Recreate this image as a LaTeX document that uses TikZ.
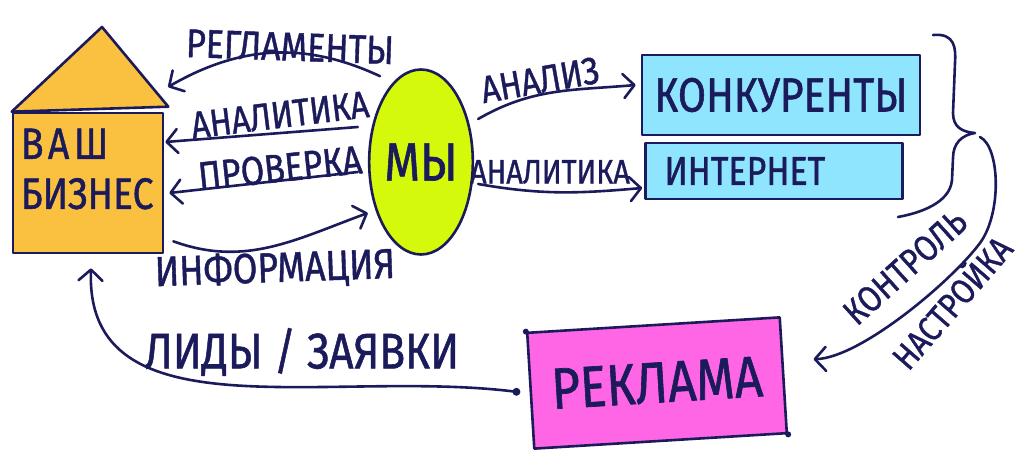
\documentclass[tikz,border=0pt]{standalone}
\usepackage{graphicx}
\usepackage{fontspec}
\setmainfont{Fira Sans}[FakeBold=1.2]
\usetikzlibrary{shapes.geometric,arrows.meta,calc}
\definecolor{ink}{HTML}{1B1B5C}
\definecolor{housefill}{HTML}{FAC040}
\definecolor{myfill}{HTML}{D5F90A}
\definecolor{netblue}{HTML}{8EE5FD}
\definecolor{adpink}{HTML}{FF66E6}
\newcommand{\hand}[1]{\scalebox{0.85}[1]{#1}}

\begin{document}
\begin{tikzpicture}[x=1pt,y=1pt,
    inkline/.style={draw=ink,line width=2.6pt,line join=round,line cap=round},
    arr/.style={inkline,-{Straight Barb[length=11pt,width=24pt,round]}},
    txt/.style={text=ink,inner sep=0pt,font=\fontsize{#1}{#1}\selectfont}]
    \useasboundingbox (0,0) rectangle (1024,463);

    % house
    \node[inkline,fill=housefill,minimum width=150pt,minimum height=140pt] (biz) at (88,280) {};
    \coordinate (roof) at (102,436);
    \filldraw[inkline,fill=housefill] (biz.north west) -- (roof) -- ($(biz.north east)+(4,5)$) -- cycle;
    \node[txt=44,align=left,anchor=west] (bizname) at ($(biz.west)+(9,14)$) {\hand{\addfontfeature{LetterSpace=12}ВАШ}\\[6pt]\hand{БИЗНЕС}};

    % us and the boxes
    \node[ellipse,inkline,fill=myfill,minimum width=95pt,minimum height=185pt,txt=54] (my) at (421,301) {\hand{МЫ}};
    \node[inkline,fill=netblue,minimum width=278pt,minimum height=80pt,txt=48] (konk) at (781,368) {\hand{КОНКУРЕНТЫ}};
    \node[inkline,fill=netblue,minimum width=257pt,minimum height=56pt,txt=40,text width=219pt,align=left] (inet) at (774,292) {\hand{ИНТЕРНЕТ}};
    \node[inkline,fill=adpink,minimum width=253pt,minimum height=116pt,rotate=3.5,txt=58] (rekl) at (657,80) {\hand{РЕКЛАМА}};
    \fill[ink] (rekl.north west) circle (3) (rekl.south east) circle (3);

    % brace
    \coordinate (brTip) at (975,330);
    \draw[inkline] (933,428) .. controls (955,430) and (956,415) .. (955,400) -- (953,350)
        .. controls (953,336) and (962,331) .. (brTip)
        .. controls (962,328) and (953,320) .. (953,305) -- (952,283)
        .. controls (950,260) and (920,250) .. (898,246);

    % arrows between house and us
    \coordinate (rgEnd) at (168,376);
    \draw[arr] ($(my.north)+(-41,-8)$) to[out=155,in=30] (rgEnd);
    \node[txt=40,rotate=-2] (rgl) at (290,416) {\hand{РЕГЛАМЕНТЫ}};

    \draw[arr] ($(my.west)+(-10,35)$) -- ($(biz.east)+(1,41)$);
    \node[txt=38,rotate=7] (anl) at (280,348) {\hand{АНАЛИТИКА}};

    \draw[arr] ($(my.west)+(-10,-10)$) -- ($(biz.east)+(5,-10)$);
    \node[txt=40,rotate=6] (prv) at (280,295) {\hand{ПРОВЕРКА}};

    \draw[arr] ($(biz.south east)+(9,13)$) to[out=-20,in=200] ($(my.west)+(0,-51)$);
    \node[txt=42,rotate=2] (inf) at (275,193) {\hand{ИНФОРМАЦИЯ}};

    % arrows from us
    \draw[arr] ($(my.east)+(4,43)$) to[out=30,in=185] ($(konk.west)+(-5,10)$);
    \node[txt=38,rotate=10] (anz) at (540,383) {\hand{АНАЛИЗ}};

    \draw[arr] ($(my.east)+(4,-22)$) to[out=-10,in=185] ($(inet.west)+(-2,-17)$);
    \node[txt=34] (an2) at (550,291) {\hand{АНАЛИТИКА}};

    % control
    \coordinate (ctlFrom) at ($(brTip)+(5,-4)$);
    \coordinate (ctlTo) at ($(rekl.east)+(29,16)$);
    \draw[arr] (ctlFrom) .. controls (1000,316) and (1002,250) .. (980,220)
        .. controls (951,181) and (860,105) .. (ctlTo);
    \node[txt=36,rotate=42] (ktr) at (905,196) {\hand{КОНТРОЛЬ}};
    \node[txt=35,rotate=49] (nst) at (950,162) {\hand{НАСТРОЙКА}};

    % leads
    \coordinate (lidFrom) at ($(rekl.west)+(-13,-1)$);
    \draw[arr] (lidFrom) .. controls (330,95) and (85,25) .. ($(biz.south)+(3,-14)$);
    \fill[ink] (lidFrom) circle (4);
    \node[txt=50] (lid) at (302,111) {\hand{ЛИДЫ / ЗАЯВКИ}};
\end{tikzpicture}
\end{document}
